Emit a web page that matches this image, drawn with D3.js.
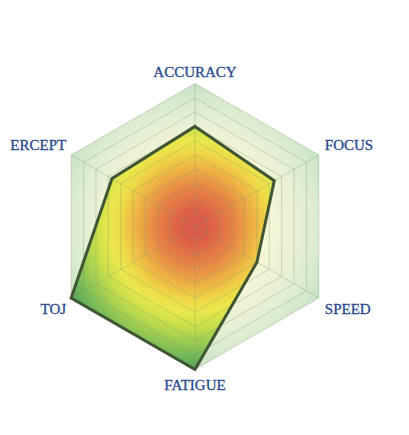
<!DOCTYPE html>
<html>
<head>
<meta charset="utf-8">
<script src="https://cdn.jsdelivr.net/npm/d3@7"></script>
<style>
  body { margin: 0; background: #fff; }
  svg { display: block; }
  .label { font-family: "Liberation Serif", "DejaVu Serif", serif; font-size: 15px; fill: #27488c; stroke: #27488c; stroke-width: 0.3; }
</style>
</head>
<body>
<svg id="chart" width="409" height="435"></svg>
<script>
const AXES = ["ACCURACY", "FOCUS", "SPEED", "FATIGUE", "TOJ", "ERCEPT"];
const VALUES = [0.7, 0.64, 0.5, 1.0, 1.0, 0.67];
const LEVELS = [0.1, 0.2, 0.3, 0.4, 0.5, 0.6, 0.7, 0.8, 0.9, 1.0];

const CENTER = { x: 195, y: 226.5 };
const RADIUS = 143;

const svg = d3.select("#chart");
const defs = svg.append("defs");

const r = d3.scaleLinear().domain([0, 1]).range([0, RADIUS]);
const angle = d3
  .scaleLinear()
  .domain([0, AXES.length])
  .range([0, 2 * Math.PI]);

function point(i, v) {
  const a = angle(i);
  return [r(v) * Math.sin(a), -r(v) * Math.cos(a)];
}

function hexPath(v) {
  return "M " + AXES.map((d, i) => point(i, v).join(",")).join(" L ") + " Z";
}

// background gradient (pale cream -> light green)
const bgGrad = defs
  .append("radialGradient")
  .attr("id", "bg-grad")
  .attr("gradientUnits", "userSpaceOnUse")
  .attr("cx", 0)
  .attr("cy", 0)
  .attr("r", RADIUS);
[
  [0, "#f8f5d6"],
  [0.5, "#f6f6d8"],
  [0.72, "#e9f1d4"],
  [0.9, "#d6e9cc"],
  [1, "#c6e1c4"],
].forEach(([o, c]) => bgGrad.append("stop").attr("offset", o).attr("stop-color", c));

// data fill gradient (red -> yellow -> green)
const fillGrad = defs
  .append("radialGradient")
  .attr("id", "fill-grad")
  .attr("gradientUnits", "userSpaceOnUse")
  .attr("cx", 0)
  .attr("cy", 0)
  .attr("r", RADIUS);
[
  [0, "#db5649"],
  [0.12, "#de6047"],
  [0.28, "#e78645"],
  [0.42, "#eeb644"],
  [0.52, "#efd947"],
  [0.6, "#e9e84c"],
  [0.7, "#c9df4b"],
  [0.8, "#9fcd52"],
  [0.9, "#75b958"],
  [1, "#55a35c"],
].forEach(([o, c]) => fillGrad.append("stop").attr("offset", o).attr("stop-color", c));

const g = svg
  .append("g")
  .attr("transform", `translate(${CENTER.x}, ${CENTER.y})`);

g.append("path").attr("d", hexPath(1)).attr("fill", "url(#bg-grad)");

const dataPoints = VALUES.map((v, i) => point(i, v));
const dataPath = "M " + dataPoints.map((p) => p.join(",")).join(" L ") + " Z";

g.append("path").attr("d", dataPath).attr("fill", "url(#fill-grad)");

// grid rings and spokes
g.selectAll(".ring")
  .data(LEVELS)
  .join("path")
  .attr("class", "ring")
  .attr("d", (d) => hexPath(d))
  .attr("fill", "none")
  .attr("stroke", "#7d9670")
  .attr("stroke-opacity", 0.42)
  .attr("stroke-width", 0.8);

g.selectAll(".spoke")
  .data(AXES)
  .join("line")
  .attr("class", "spoke")
  .attr("x1", 0)
  .attr("y1", 0)
  .attr("x2", (d, i) => point(i, 1)[0])
  .attr("y2", (d, i) => point(i, 1)[1])
  .attr("stroke", "#7d9670")
  .attr("stroke-opacity", 0.42)
  .attr("stroke-width", 0.8);

g.append("path")
  .attr("d", dataPath)
  .attr("fill", "none")
  .attr("stroke", "#3e5632")
  .attr("stroke-width", 3)
  .attr("stroke-linejoin", "miter");

// labels
g.selectAll(".label")
  .data(AXES)
  .join("text")
  .attr("class", "label")
  .attr("x", (d, i) => {
    const [x] = point(i, 1);
    if (Math.abs(x) < 1) return x;
    return x > 0 ? x + 6 : x - 5;
  })
  .attr("y", (d, i) => {
    const [x, y] = point(i, 1);
    if (Math.abs(x) < 1) return y < 0 ? y - 7 : y + 20;
    return y < 0 ? y - 5 : y + 16;
  })
  .attr("text-anchor", (d, i) => {
    const [x] = point(i, 1);
    if (Math.abs(x) < 1) return "middle";
    return x > 0 ? "start" : "end";
  })
  .text((d) => d);
</script>
</body>
</html>
